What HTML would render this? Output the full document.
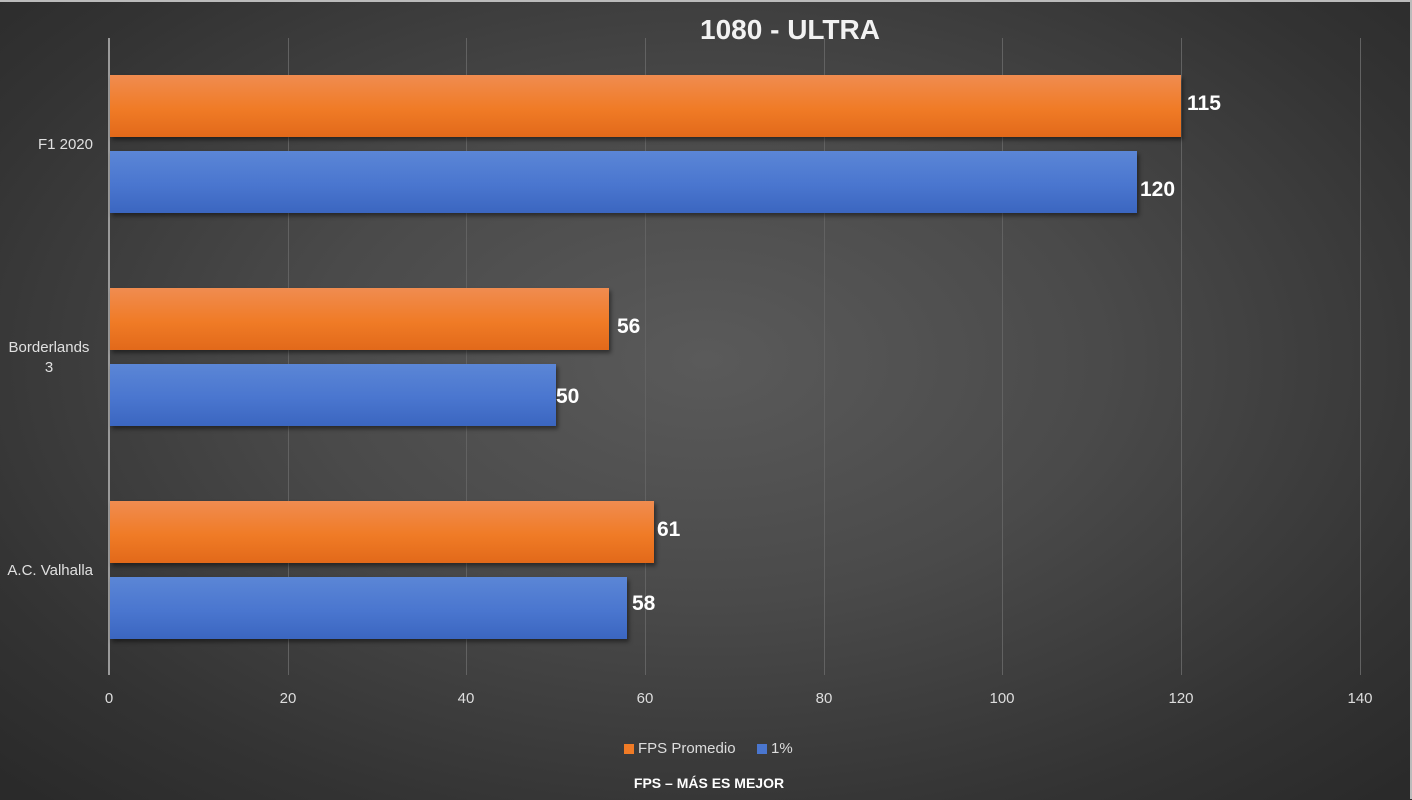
<!DOCTYPE html>
<html><head><meta charset="utf-8"><style>
html,body{margin:0;padding:0;background:#111;}
#c{position:relative;width:1412px;height:800px;overflow:hidden;
background:radial-gradient(ellipse 70% 75% at 50% 45%,#5a5a5a 0%,#4a4a4a 40%,#333 80%,#2a2a2a 100%);
font-family:"Liberation Sans",sans-serif;color:#ddd;}
.frame{position:absolute;left:0;top:0;width:1410px;height:797px;border-top:2px solid #bbb;border-right:2px solid #bbb;}
.top{position:absolute;left:0;top:0;width:1412px;height:2px;background:#111;}
.grid{position:absolute;top:38px;height:637px;width:1px;background:#626262;}
.axis{position:absolute;left:108px;top:38px;height:637px;width:2px;background:#9a9a9a;}
.bar{position:absolute;left:110px;height:62px;box-shadow:2px 3px 4px rgba(0,0,0,.45);}
.o{background:linear-gradient(#f08c50,#f07b26 55%,#e2691a);}
.b{background:linear-gradient(#5b86d6,#4a76cf 55%,#3b66c0);}
.val{position:absolute;font-weight:bold;font-size:21px;color:#fff;}
.cat{position:absolute;font-size:15px;color:#e0e0e0;text-align:center;}
.tick{position:absolute;top:690px;font-size:15px;color:#ddd;width:60px;text-align:center;margin-left:-30px;}
</style></head><body><div id="c">
<div class="top"></div><div class="frame"></div>
<div style="position:absolute;left:0;width:1412px;top:14px;text-align:center;font-size:28px;font-weight:bold;color:#f2f2f2;padding-left:168px;box-sizing:border-box;">1080 - ULTRA</div>
<div class="grid" style="left:288px"></div><div class="grid" style="left:466px"></div><div class="grid" style="left:645px"></div><div class="grid" style="left:824px"></div><div class="grid" style="left:1002px"></div><div class="grid" style="left:1181px"></div><div class="grid" style="left:1360px"></div>
<div class="axis"></div>
<div class="bar o" style="top:75px;width:1071px"></div>
<div class="bar b" style="top:151px;width:1027px"></div>
<div class="bar o" style="top:288px;width:499px"></div>
<div class="bar b" style="top:364px;width:446px"></div>
<div class="bar o" style="top:501px;width:544px"></div>
<div class="bar b" style="top:577px;width:517px"></div>
<div class="val" style="left:1187px;top:92px">115</div>
<div class="val" style="left:1140px;top:178px">120</div>
<div class="val" style="left:617px;top:315px">56</div>
<div class="val" style="left:556px;top:385px">50</div>
<div class="val" style="left:657px;top:518px">61</div>
<div class="val" style="left:632px;top:592px">58</div>
<div class="cat" style="left:10px;width:83px;top:136px;text-align:right;">F1 2020</div>
<div class="cat" style="left:0px;width:98px;top:338px;line-height:20px;">Borderlands<br>3</div>
<div class="cat" style="left:0px;width:93px;top:562px;text-align:right;">A.C. Valhalla</div>
<div class="tick" style="left:109px">0</div><div class="tick" style="left:288px">20</div><div class="tick" style="left:466px">40</div><div class="tick" style="left:645px">60</div><div class="tick" style="left:824px">80</div><div class="tick" style="left:1002px">100</div><div class="tick" style="left:1181px">120</div><div class="tick" style="left:1360px">140</div>
<div style="position:absolute;left:624px;top:744px;width:10px;height:10px;background:#f07b26"></div>
<div style="position:absolute;left:638px;top:740px;font-size:15px;color:#ddd">FPS Promedio</div>
<div style="position:absolute;left:757px;top:744px;width:10px;height:10px;background:#4a76cf"></div>
<div style="position:absolute;left:771px;top:740px;font-size:15px;color:#ddd">1%</div>
<div style="position:absolute;left:0;width:1412px;top:775px;text-align:center;font-size:14px;font-weight:bold;color:#fff;padding-left:6px;box-sizing:border-box;">FPS – MÁS ES MEJOR</div>
</div></body></html>
